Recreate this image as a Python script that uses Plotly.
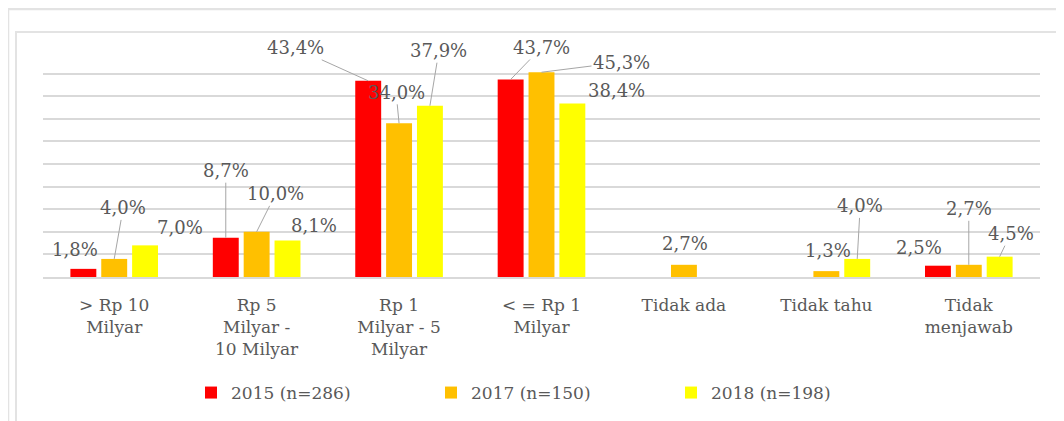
import plotly.graph_objects as go

categories = ["> Rp 10<br>Milyar", "Rp 5<br>Milyar -<br>10 Milyar", "Rp 1<br>Milyar - 5<br>Milyar",
              "< = Rp 1<br>Milyar", "Tidak ada", "Tidak tahu", "Tidak<br>menjawab"]
series_names = ["2015 (n=286)", "2017 (n=150)", "2018 (n=198)"]
values_2015 = [1.8, 8.7, 43.4, 43.7, None, None, 2.5]
values_2017 = [4.0, 10.0, 34.0, 45.3, 2.7, 1.3, 2.7]
values_2018 = [7.0, 8.1, 37.9, 38.4, None, 4.0, 4.5]

colors = ["#FF0000", "#FFC000", "#FFFF00"]
all_values = [values_2015, values_2017, values_2018]

# label offsets in pixels relative to bar top: (dx, dy, leader_line)
label_offsets = [
    [(-8, -19, False), (0, -67, True), (-73, -33, True), (31, -32, True), None, None, (-19, -18, False)],
    [(9, -51, True), (19, -38, True), (-3, -31, True), (80, -10, True), (1, -21, False), (2, -21, False), (0, -56, True)],
    [(35, -18, False), (27, -15, False), (9, -55, True), (44, -13, False), None, (3, -53, True), (11, -23, True)],
]

PAGE_OFF = 8  # default body margin of the html page
W, H = 1064 - PAGE_OFF, 421 - PAGE_OFF
ML, MR, MT, MB = 35, 24, 43, 144
plot_w = W - ML - MR
plot_h = H - MT - MB
bargap = 0.35
bargroupgap = 0.16
slot = plot_w / len(categories) * (1 - bargap) / 3

FONT = "DejaVu Serif"
GRAY = "#595959"

fig = go.Figure()
for name, vals, col in zip(series_names, all_values, colors):
    fig.add_trace(go.Bar(x=categories, y=vals, name=name, marker=dict(color=col, line=dict(width=0))))

annotations = []
for s, (vals, offs) in enumerate(zip(all_values, label_offsets)):
    boff = (s - 1) * slot
    for i, v in enumerate(vals):
        if v is None or offs[i] is None:
            continue
        dx, dy, leader = offs[i]
        text = f"{v:.1f}%".replace(".", ",")
        if leader:
            annotations.append(dict(x=categories[i], y=v, xref="x", yref="y", text=text,
                                    showarrow=True, arrowhead=0, arrowwidth=1, arrowcolor="#A6A6A6",
                                    ax=dx, ay=dy, axref="pixel", ayref="pixel", xshift=boff,
                                    font=dict(family=FONT, size=18, color=GRAY)))
        else:
            annotations.append(dict(x=categories[i], y=v, xref="x", yref="y", text=text,
                                    showarrow=False, xshift=boff + dx, yshift=-dy,
                                    xanchor="center", yanchor="middle",
                                    font=dict(family=FONT, size=18, color=GRAY)))


def px_x(p):
    return (p - PAGE_OFF - ML) / plot_w


def px_y(p):
    return (H - MB - (p - PAGE_OFF)) / plot_h


shapes = [
    dict(type="rect", xref="paper", yref="paper", x0=px_x(8), x1=px_x(1080), y0=px_y(9), y1=px_y(440),
         line=dict(color="#E3E3E3", width=2.5), fillcolor="rgba(0,0,0,0)", layer="below"),
    dict(type="rect", xref="paper", yref="paper", x0=px_x(16), x1=px_x(1080), y0=px_y(32), y1=px_y(440),
         line=dict(color="#E3E3E3", width=2), fillcolor="rgba(0,0,0,0)", layer="below"),
]

fig.update_layout(
    width=W, height=H,
    margin=dict(l=ML, r=MR, t=MT, b=MB, autoexpand=False),
    paper_bgcolor="white", plot_bgcolor="white",
    barmode="group", bargap=bargap, bargroupgap=bargroupgap,
    font=dict(family=FONT, size=17, color=GRAY),
    showlegend=True,
    legend=dict(orientation="h", x=px_x(191), xanchor="left", y=px_y(393), yanchor="middle",
                font=dict(family=FONT, size=17, color=GRAY), entrywidth=195, entrywidthmode="pixels",
                tracegroupgap=0),
    annotations=annotations,
    shapes=shapes,
    xaxis=dict(showline=True, linecolor="#D9D9D9", linewidth=1.5, ticks="", showgrid=False,
               automargin=False, ticklabelstandoff=12,
               tickfont=dict(family=FONT, size=17, color=GRAY)),
    yaxis=dict(range=[0, 50], dtick=5, showticklabels=False, showgrid=True, gridcolor="#D9D9D9",
               gridwidth=1.5, zeroline=False, ticks="", automargin=False),
)

fig.write_html("out.html")
